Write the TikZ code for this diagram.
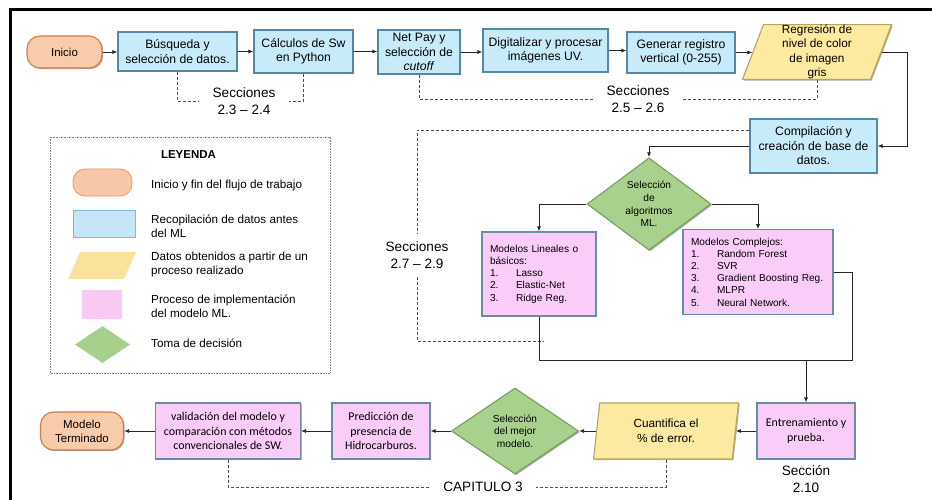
\documentclass[tikz,border=0pt]{standalone}
\usepackage{fontspec}
\setmainfont{Liberation Sans}
\newfontfamily\calibri{Carlito}
\usetikzlibrary{arrows.meta,shapes.geometric,shadows}
\definecolor{azulF}{RGB}{200,235,249}
\definecolor{azulB}{RGB}{84,135,168}
\definecolor{naranjaF}{RGB}{248,203,170}
\definecolor{naranjaB}{RGB}{205,125,75}
\definecolor{amarF}{RGB}{251,234,160}
\definecolor{amarB}{RGB}{185,165,90}
\definecolor{rosaF}{RGB}{250,205,248}
\definecolor{rosaB}{RGB}{105,140,170}
\definecolor{verdeF}{RGB}{169,209,142}
\definecolor{verdeB}{RGB}{118,160,88}
\definecolor{leyAzul}{RGB}{199,229,249}
\definecolor{leyAzulB}{RGB}{120,190,218}
\definecolor{leyNar}{RGB}{246,200,168}
\definecolor{leyNarB}{RGB}{238,148,96}
\definecolor{leyAmar}{RGB}{251,226,154}
\definecolor{leyRosa}{RGB}{249,201,243}
\definecolor{leyVerde}{RGB}{168,208,141}
\tikzset{
  sombra/.style={drop shadow={shadow xshift=1.2pt, shadow yshift=-1.2pt, fill=black!65}},
  caja/.style={rectangle, draw=azulB, line width=1.1pt, fill=azulF, sombra,
    align=center, inner sep=2pt, font=\fontsize{12.2}{14.5}\selectfont},
  terminal/.style={rectangle, rounded corners=13pt, draw=naranjaB, line width=1.1pt,
    fill=naranjaF, sombra, align=center, inner sep=2pt, font=\fontsize{11.5}{14}\selectfont},
  datos/.style={trapezium, trapezium stretches body=true, draw=amarB, line width=1.1pt,
    fill=amarF, sombra, align=center, inner sep=0pt, font=\fontsize{11.8}{14.5}\selectfont},
  proceso/.style={rectangle, draw=rosaB, line width=1.1pt, fill=rosaF, sombra,
    align=center, inner sep=2pt, font=\calibri\fontsize{11.9}{14.3}\selectfont},
  lista/.style={rectangle, draw=rosaB, line width=1.1pt, fill=rosaF, sombra,
    align=left, inner sep=8pt, font=\fontsize{10.1}{12.2}\selectfont},
  decision/.style={diamond, draw=verdeB, line width=1.1pt, fill=verdeF, sombra,
    align=center, inner sep=0pt, font=\fontsize{10.2}{12.6}\selectfont},
  seccion/.style={align=center, inner xsep=13pt, inner ysep=8pt,
    font=\fontsize{13.6}{17}\selectfont},
  leyTexto/.style={anchor=west, align=left, inner sep=0pt, font=\fontsize{11.7}{14}\selectfont},
  flecha/.style={-{Latex[length=5pt,width=4pt]}, line width=0.8pt, black!85},
  linea/.style={line width=0.8pt, black!85},
  guion/.style={densely dashed, line width=0.6pt, black!70}
}
\newcommand{\num}[1]{\makebox[26pt][l]{#1}}
\begin{document}
\begin{tikzpicture}[x=1pt,y=-1pt]
% limites y marco
\useasboundingbox (0,0) rectangle (932,500);
\draw[line width=3pt] (10,500) -- (10,10) -- (932,10);

% flujo superior
\node[terminal, minimum width=75pt, minimum height=32pt] (ini) at (64.5,52) {Inicio};
\node[caja, minimum width=119pt, minimum height=39pt] (busq) at (177.5,51.5) {Búsqueda y\\selección de datos.};
\node[caja, minimum width=99pt, minimum height=43pt] (calc) at (303.5,51.5) {Cálculos de Sw\\en Python};
\node[caja, minimum width=82pt, minimum height=44pt] (netpay) at (419,52) {Net Pay y\\selección de\\\textit{cutoff}};
\node[caja, minimum width=125pt, minimum height=43pt] (digit) at (545.5,50.5) {Digitalizar y procesar\\imágenes UV.};
\node[caja, minimum width=108pt, minimum height=41pt] (regis) at (681,52.5) {Generar registro\\vertical (0-255)};
\node[datos, minimum width=149pt, minimum height=54pt, trapezium left angle=69,
  trapezium right angle=111] (regr) at (817,52) {Regresión de\\nivel de color\\de imagen\\gris};

% base de datos y algoritmos
\node[caja, minimum width=127pt, minimum height=54pt] (compil) at (813.5,146) {Compilación y\\creación de base de\\datos.};
\node[decision, minimum width=124pt, minimum height=86pt] (algo) at (649,204) {Selección\\de\\algoritmos\\ML.};
\node[lista, minimum width=114pt, minimum height=84pt, text width=98pt] (lin) at (539,274)
  {Modelos Lineales o\\básicos:\\\num{1.}Lasso\\\num{2.}Elastic-Net\\\num{3.}Ridge Reg.};
\node[lista, minimum width=150pt, minimum height=82pt, text width=134pt] (cplx) at (758,272)
  {Modelos Complejos:\\\num{1.}Random Forest\\\num{2.}SVR\\\num{3.}Gradient Boosting Reg.\\\num{4.}MLPR\\\num{5.}Neural Network.};

% flujo inferior
\node[proceso, minimum width=98pt, minimum height=56pt] (entren) at (806,431) {Entrenamiento y\\prueba.};
\node[datos, minimum width=145pt, minimum height=56pt, trapezium left angle=75,
  trapezium right angle=105] (cuant) at (666,431) {Cuantifica el\\\% de error.};
\node[decision, minimum width=127pt, minimum height=86pt] (mejor) at (515,431) {Selección\\del mejor\\modelo.};
\node[proceso, minimum width=98pt, minimum height=56pt] (pred) at (381,431) {Predicción de\\presencia de\\Hidrocarburos.};
\node[proceso, minimum width=145pt, minimum height=56pt] (valid) at (228,431) {validación del modelo y\\comparación con métodos\\convencionales de SW.};
\node[terminal, minimum width=83pt, minimum height=38pt] (fin) at (82,431) {Modelo\\Terminado};

% secciones
\node[seccion] (sec1) at (244,101) {Secciones\\2.3 -- 2.4};
\node[seccion] (sec2) at (638,99) {Secciones\\2.5 -- 2.6};
\node[seccion] (sec3) at (417,255) {Secciones\\2.7 -- 2.9};
\node[seccion] (sec4) at (806,479) {Sección\\2.10};
\node[seccion] (cap) at (483,487) {CAPITULO 3};
\coordinate (finsec3) at (543,341);
\draw[guion] (busq.south) |- (sec1.west);
\draw[guion] (calc.south) |- (sec1.east);
\draw[guion] (netpay.south) |- (sec2.west);
\draw[guion] (regr.south) |- (sec2.east);
\draw[guion] ([yshift=16pt]compil.west) -| (sec3.north);
\draw[guion] (sec3.south) |- (finsec3);
\draw[guion] (valid.south) |- (cap.west);
\draw[guion] (cuant.south) |- (cap.east);

% flechas
\foreach \a/\b in {ini/busq, busq/calc, calc/netpay, netpay/digit, digit/regis, regis/regr}
  \draw[flecha] (\a.east) -- (\a.east -| \b.west);
\draw[flecha] (regr.east) -- ++(25.5,0) |- (compil.east);
\draw[flecha] (compil.west) -| (algo.north);
\draw[flecha] (algo.west) -| (lin.north);
\draw[flecha] (algo.east) -| (cplx.north);
\coordinate (junta) at (852,360);
\draw[linea] (lin.south) |- (junta) |- (cplx.east);
\draw[flecha] (entren.north |- junta) -- (entren.north);
\foreach \a/\b in {entren/cuant, cuant/mejor, mejor/pred, pred/valid, valid/fin}
  \draw[flecha] (\a.west) -- (\a.west -| \b.east);

% leyenda
\draw[densely dotted, line width=0.6pt, gray] (50,137) rectangle (330,373);
\node[font=\bfseries\fontsize{11.5}{14}\selectfont] (leytit) at (188.5,155) {LEYENDA};
\node[rectangle, rounded corners=12pt, draw=leyNarB, fill=leyNar, line width=0.8pt,
  minimum width=59pt, minimum height=27pt] (lg1) at (102.5,182.5) {};
\node[rectangle, draw=leyAzulB, fill=leyAzul, line width=0.8pt, minimum width=62pt,
  minimum height=27pt, text=gray, font=\tiny] (lg2) at (104,223.5) {.};
\fill[leyAmar] (80,252) -- (136,252) -- (124,279) -- (68,279) -- cycle;
\node[rectangle, fill=leyRosa, minimum width=40pt, minimum height=29pt] (lg4) at (102,304.5) {};
\node[diamond, fill=leyVerde, inner sep=0pt, minimum width=55pt, minimum height=37pt] (lg5) at (102.5,344.5) {};
\foreach \n/\y/\t in {1/185/{Inicio y fin del flujo de trabajo},
    2/226/{Recopilación de datos antes\\del ML},
    3/264/{Datos obtenidos a partir de un\\proceso realizado},
    4/306/{Proceso de implementación\\del modelo ML.},
    5/343/{Toma de decisión}}
  \node[leyTexto] (lt\n) at (151,\y) {\t};
\end{tikzpicture}
\end{document}
